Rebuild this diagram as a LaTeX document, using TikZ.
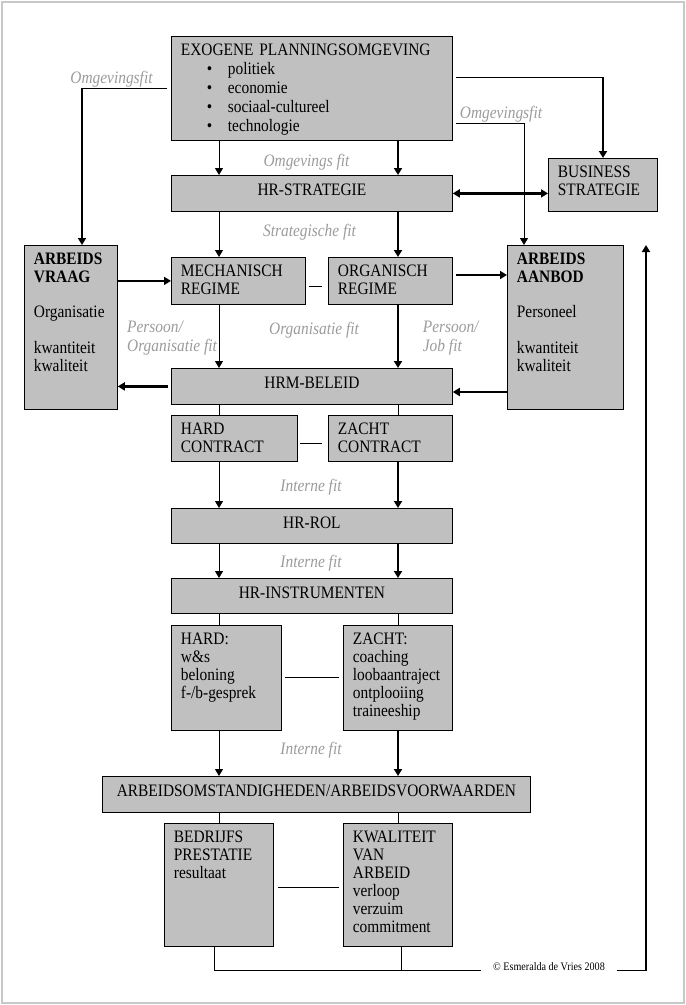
\documentclass[tikz,border=0pt]{standalone}
\usepackage{fontspec}
\setmainfont{Liberation Serif}[FakeStretch=0.88]
\usepackage{tikz}
\usetikzlibrary{arrows.meta}
\definecolor{boxgray}{RGB}{192,192,192}
\definecolor{fitgray}{RGB}{155,155,155}
\definecolor{framegray}{RGB}{200,200,200}
\newcommand{\boxfont}{\fontsize{17.5}{18}\selectfont}
\newcommand{\copyfont}{\fontsize{11.5}{12}\selectfont}
\newcommand{\bul}{\hspace*{26pt}\makebox[21pt][l]{•}}
\hyphenpenalty=10000
\exhyphenpenalty=10000

\begin{document}
\begin{tikzpicture}[x=1pt, y=-1pt,
	main/.style = {draw, line width=0.8pt, fill=boxgray, anchor=north west, align=left, font=\boxfont, inner xsep=9.5pt, inner ysep=0pt, text height=19pt},
	bar/.style = {main, align=center, inner xsep=0pt, text width=281pt, text height=20.5pt, text depth=15.5pt},
	fitlabel/.style = {font=\boxfont\itshape, text=fitgray, inner sep=0pt},
	ln/.style = {line width=1pt},
	tk/.style = {line width=2.2pt},
	arr/.style = {-{Triangle[length=7pt, width=8pt]}},
	darr/.style = {{Triangle[length=7pt, width=8pt]}-{Triangle[length=7pt, width=8pt]}}]
		\useasboundingbox (0,0) rectangle (686,1005);
		\draw[framegray, line width=2pt] (2,2) rectangle (684,1003);
		\node[main, text width=262pt, text depth=85pt] (1) at (171,36) {EXOGENE PLANNINGSOMGEVING\\[1pt]\bul politiek\\[1pt]\bul economie\\[1pt]\bul sociaal-cultureel\\[1pt]\bul technologie};
		\node[bar] (2) at (171,175) {HR-STRATEGIE};
		\node[main, text width=90pt, text depth=34pt] (3) at (548,158) {BUSINESS\\STRATEGIE};
		\node[main, text width=74pt, text depth=145pt] (4) at (24,245) {\textbf{ARBEIDS}\\\textbf{VRAAG}\\[17pt]Organisatie\\[18pt]kwantiteit\\kwaliteit};
		\node[main, text width=115pt, text depth=28pt] (5) at (171,257) {MECHANISCH\\REGIME};
		\node[main, text width=105pt, text depth=28pt] (6) at (328,257) {ORGANISCH\\REGIME};
		\node[main, text width=97pt, text depth=145pt] (7) at (507,245) {\textbf{ARBEIDS}\\\textbf{AANBOD}\\[17pt]Personeel\\[18pt]kwantiteit\\kwaliteit};
		\node[bar] (8) at (171,368) {HRM-BELEID};
		\node[main, text width=107pt, text depth=27pt] (9) at (171,415) {HARD\\CONTRACT};
		\node[main, text width=105pt, text depth=27pt] (10) at (328,415) {ZACHT\\CONTRACT};
		\node[bar, text depth=14.5pt] (11) at (171,508) {HR-ROL};
		\node[bar, text depth=14.5pt] (12) at (171,578) {HR-INSTRUMENTEN};
		\node[main, text width=91pt, text depth=86pt] (13) at (171,625) {HARD:\\w\&s\\beloning\\f-/b-gesprek};
		\node[main, text width=90pt, text depth=86pt] (14) at (343,625) {ZACHT:\\coaching\\loobaantraject\\ontplooiing\\traineeship};
		\node[bar, text width=428pt] (15) at (102,776) {ARBEIDSOMSTANDIGHEDEN/ARBEIDSVOORWAARDEN};
		\node[main, text width=90pt, text depth=104pt] (16) at (164,823) {BEDRIJFS\\PRESTATIE\\resultaat};
		\node[main, text width=90pt, text depth=104pt] (17) at (343,823) {KWALITEIT\\VAN\\ARBEID\\verloop\\verzuim\\commitment};
		\node[font=\copyfont, inner xsep=11.5pt, inner ysep=0pt, anchor=base] (18) at (549,970) {© Esmeralda de Vries 2008};
		\node[fitlabel, anchor=base] (f1) at (111.5,83) {Omgevingsfit};
		\node[fitlabel, anchor=base] (f2) at (501,118.5) {Omgevingsfit};
		\node[fitlabel, anchor=base] (f3) at (306.5,166) {Omgevings fit};
		\node[fitlabel, anchor=base] (f4) at (309.5,236) {Strategische fit};
		\node[fitlabel, anchor=base west, align=left] (f5) at (127,351.5) {Persoon/\\[1pt]Organisatie fit};
		\node[fitlabel, anchor=base] (f6) at (314,334) {Organisatie fit};
		\node[fitlabel, anchor=base west, align=left] (f7) at (422.7,351.5) {Persoon/\\[1pt]Job fit};
		\node[fitlabel, anchor=base] (f8) at (311,491.5) {Interne fit};
		\node[fitlabel, anchor=base] (f9) at (311,567) {Interne fit};
		\node[fitlabel, anchor=base] (f10) at (311,754) {Interne fit};
		\coordinate (lc) at (219,0);
		\coordinate (rc) at (398,0);
		\draw[ln, arr] (1.south -| lc) -- (2.north -| lc);
		\draw[tk, arr] (1.south -| rc) -- (2.north -| rc);
		\draw[ln, arr] (2.south -| lc) -- (5.north -| lc);
		\draw[tk, arr] (2.south -| rc) -- (6.north -| rc);
		\draw[ln, arr] (5.south -| lc) -- (8.north -| lc);
		\draw[tk, arr] (6.south -| rc) -- (8.north -| rc);
		\draw[ln] (8.south -| lc) -- (9.north -| lc);
		\draw[ln] (8.south -| rc) -- (10.north -| rc);
		\draw[ln, arr] (9.south -| lc) -- (11.north -| lc);
		\draw[tk, arr] (10.south -| rc) -- (11.north -| rc);
		\draw[ln, arr] (11.south -| lc) -- (12.north -| lc);
		\draw[tk, arr] (11.south -| rc) -- (12.north -| rc);
		\draw[ln] (12.south -| lc) -- (13.north -| lc);
		\draw[ln] (12.south -| rc) -- (14.north -| rc);
		\draw[ln, arr] (13.south -| lc) -- (15.north -| lc);
		\draw[tk, arr] (14.south -| rc) -- (15.north -| rc);
		\draw[ln] (15.south -| lc) -- (16.north -| lc);
		\draw[ln] (15.south -| rc) -- (17.north -| rc);
		\draw[ln] ([xshift=3pt, yshift=-5.5pt]5.east) -- ([xshift=-6pt, yshift=-5.5pt]6.west);
		\draw[ln] ([xshift=2pt, yshift=-5pt]9.east) -- ([xshift=-6pt, yshift=-5pt]10.west);
		\draw[ln] ([xshift=3pt]13.east) -- ([xshift=-4.5pt]14.west);
		\draw[ln] ([xshift=4pt, yshift=-2.5pt]16.east) -- ([xshift=-4.5pt, yshift=-2.5pt]17.west);
		\coordinate (y1) at (0,275);
		\coordinate (y2) at (0,392);
		\draw[tk, arr] (4.east |- 5.west) -- (5.west);
		\draw[tk, arr] ([xshift=3.5pt]6.east |- y1) -- (7.west |- y1);
		\draw[tk, arr] ([xshift=-3pt]8.west) -- (4.east |- 8.west);
		\draw[tk, arr] (7.west |- y2) -- (8.east |- y2);
		\draw[tk, darr] (2.east) -- (3.west |- 2.east);
		\coordinate (c1) at (603,77);
		\coordinate (c2) at (82,88);
		\coordinate (c3) at (524,123);
		\draw[ln] ([xshift=3.5pt]1.east |- c1) -- (c1);
		\draw[tk, arr] (c1) -- (3.north -| c1);
		\draw[ln] ([xshift=-4pt]1.west |- c2) -- (c2);
		\draw[tk, arr] (c2) -- (4.north -| c2);
		\draw[ln, arr] ([xshift=3.5pt]1.east |- c3) -| (7.north -| c3);
		\coordinate (bl) at (214,0);
		\coordinate (kl) at (401,0);
		\coordinate (fb) at (646,0);
		\draw[ln] (16.south -| bl) |- (18.base west);
		\draw[ln] (17.south -| kl) -- (kl |- 18.base);
		\draw[ln] (18.base east) -- (fb |- 18.base);
		\draw[tk, arr] ([yshift=-1pt]fb |- 18.base) -- (fb |- 7.north);
	\end{tikzpicture}
\end{document}
